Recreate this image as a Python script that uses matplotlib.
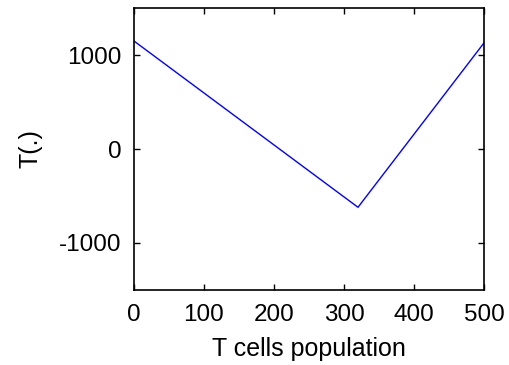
import matplotlib
matplotlib.use('Agg')
import matplotlib.pyplot as plt

# T(.) as a function of T cells population
population = [0, 320, 500]
t_value = [1150, -620, 1130]

plt.rcParams['font.family'] = ['Liberation Sans', 'DejaVu Sans']
plt.rcParams['axes.unicode_minus'] = False  # plain hyphen like the original

fig = plt.figure(figsize=(5.09, 3.65), dpi=100)
ax = fig.add_axes([0.263, 0.2055, 0.688, 0.7725])

ax.plot(population, t_value, color='#0000ff', linewidth=1.0)

ax.set_xlim(0, 500)
ax.set_ylim(-1500, 1500)
ax.set_xticks([0, 100, 200, 300, 400, 500])
ax.set_yticks([-1000, 0, 1000])

ax.tick_params(direction='in', top=True, right=True, length=4, width=1,
               labelsize=17.5, colors='black')
ax.tick_params(axis='x', pad=10)
ax.tick_params(axis='y', pad=9)
for s in ax.spines.values():
    s.set_linewidth(1.2)

ax.set_xlabel('T cells population', fontsize=18, labelpad=8)
ax.set_ylabel('T(.)', fontsize=18, labelpad=12)

fig.savefig('out.png', dpi=100)
